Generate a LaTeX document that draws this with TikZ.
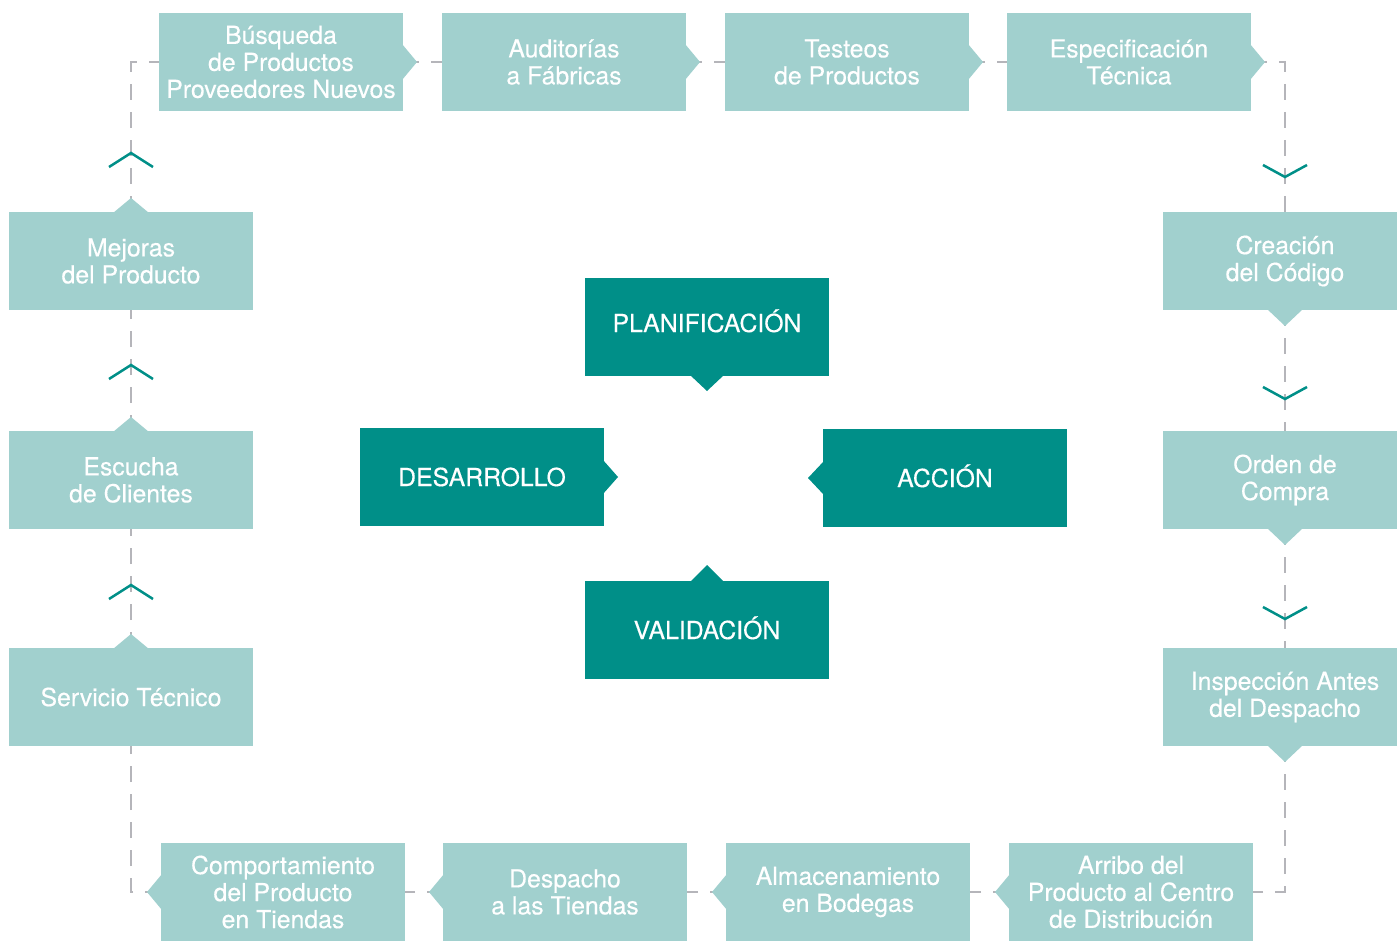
\documentclass[tikz,border=0pt]{standalone}
\usepackage{fontspec}
\setmainfont{TeX Gyre Heros}[FakeBold=0.35]
\usetikzlibrary{backgrounds}
\definecolor{lightbox}{HTML}{A1D0CE}
\definecolor{darkbox}{HTML}{008F88}
\definecolor{dashgray}{HTML}{B5B5BA}
\begin{document}
\begin{tikzpicture}[x=1pt,y=-1pt,
  lbox/.style={fill=lightbox, text=white, minimum width=244pt, minimum height=98pt,
    inner sep=0pt, outer sep=0pt, align=center, font=\fontsize{24.8}{27}\selectfont},
  dbox/.style={lbox, fill=darkbox, text height=18pt, text depth=0pt},
  conn/.style={draw=dashgray, line width=2.8pt, dash pattern=on 16pt off 12pt},
  chev/.style={draw=darkbox, line width=2.5pt}]
\useasboundingbox (0,0) rectangle (1397,941);

% top row
\node[lbox] (b1) at (281,62) {Búsqueda\\de Productos\\Proveedores Nuevos};
\node[lbox] (b2) at (564,62) {Auditorías\\a Fábricas};
\node[lbox] (b3) at (847,62) {Testeos\\de Productos};
\node[lbox] (b4) at (1129,62) {Especificación\\Técnica};
% right column
\node[lbox] (r1) at (1285,261) {Creación\\del Código};
\node[lbox] (r2) at (1285,480) {Orden de\\Compra};
\node[lbox] (r3) at (1285,697) {Inspección Antes\\del Despacho};
% bottom row
\node[lbox] (d4) at (1131,892) {Arribo del\\Producto al Centro\\de Distribución};
\node[lbox] (d3) at (848,892) {Almacenamiento\\en Bodegas};
\node[lbox] (d2) at (565,892) {Despacho\\a las Tiendas};
\node[lbox] (d1) at (283,892) {Comportamiento\\del Producto\\en Tiendas};
% left column
\node[lbox] (l3) at (131,697) {Servicio Técnico};
\node[lbox] (l2) at (131,480) {Escucha\\de Clientes};
\node[lbox] (l1) at (131,261) {Mejoras\\del Producto};
% centre
\node[dbox, text depth=8pt] (pl) at (707,327) {PLANIFICACIÓN};
\node[dbox] (de) at (482,477) {DESARROLLO};
\node[dbox] (ac) at (945,478) {ACCIÓN};
\node[dbox] (va) at (707,630) {VALIDACIÓN};

% pointers
\fill[lightbox] (b1.east) ++(-1,-18) -- ++(15,18) -- ++(-15,18) -- cycle;
\fill[lightbox] (b2.east) ++(-1,-18) -- ++(15,18) -- ++(-15,18) -- cycle;
\fill[lightbox] (b3.east) ++(-1,-18) -- ++(15,18) -- ++(-15,18) -- cycle;
\fill[lightbox] (b4.east) ++(-1,-18) -- ++(15,18) -- ++(-15,18) -- cycle;
\fill[lightbox] (r1.south) ++(-18,-1) -- ++(18,17) -- ++(18,-17) -- cycle;
\fill[lightbox] (r2.south) ++(-18,-1) -- ++(18,17) -- ++(18,-17) -- cycle;
\fill[lightbox] (r3.south) ++(-18,-1) -- ++(18,17) -- ++(18,-17) -- cycle;
\fill[lightbox] (d4.west) ++(1,-18) -- ++(-15,18) -- ++(15,18) -- cycle;
\fill[lightbox] (d3.west) ++(1,-18) -- ++(-15,18) -- ++(15,18) -- cycle;
\fill[lightbox] (d2.west) ++(1,-18) -- ++(-15,18) -- ++(15,18) -- cycle;
\fill[lightbox] (d1.west) ++(1,-18) -- ++(-15,18) -- ++(15,18) -- cycle;
\fill[lightbox] (l3.north) ++(-18,1) -- ++(18,-15) -- ++(18,15) -- cycle;
\fill[lightbox] (l2.north) ++(-18,1) -- ++(18,-15) -- ++(18,15) -- cycle;
\fill[lightbox] (l1.north) ++(-18,1) -- ++(18,-15) -- ++(18,15) -- cycle;
\fill[darkbox] (pl.south) ++(-17,-1) -- ++(17,16) -- ++(17,-16) -- cycle;
\fill[darkbox] (de.east) ++(-1,-17) -- ++(15,17) -- ++(-15,17) -- cycle;
\fill[darkbox] (ac.west) ++(1,-17) -- ++(-16,17) -- ++(16,17) -- cycle;
\fill[darkbox] (va.north) ++(-17,1) -- ++(17,-17) -- ++(17,17) -- cycle;

% connectors
\begin{scope}[on background layer]
\draw[conn] (b1.east) -- (b2.west);
\draw[conn] (b2.east) -- (b3.west);
\draw[conn] (b3.east) -- (b4.west);
\draw[conn] (b4.east) -| (r1.north);
\draw[conn] (r1.south) -- (r2.north);
\draw[conn] (r2.south) -- (r3.north);
\draw[conn] (r3.south) |- (d4.east);
\draw[conn] (d4.west) -- (d3.east);
\draw[conn] (d3.west) -- (d2.east);
\draw[conn] (d2.west) -- (d1.east);
\draw[conn] (d1.west) -| (l3.south);
\draw[conn] (l3.north) -- (l2.south);
\draw[conn] (l2.north) -- (l1.south);
\draw[conn] (l1.north) |- (b1.west);
\end{scope}

% chevrons
\draw[chev] (109,167) -- (131,153) -- (153,167);
\draw[chev] (109,379) -- (131,365) -- (153,379);
\draw[chev] (109,599) -- (131,585) -- (153,599);
\draw[chev] (1263,165) -- (1285,177) -- (1307,165);
\draw[chev] (1263,387) -- (1285,399) -- (1307,387);
\draw[chev] (1263,607) -- (1285,619) -- (1307,607);
\end{tikzpicture}
\end{document}
